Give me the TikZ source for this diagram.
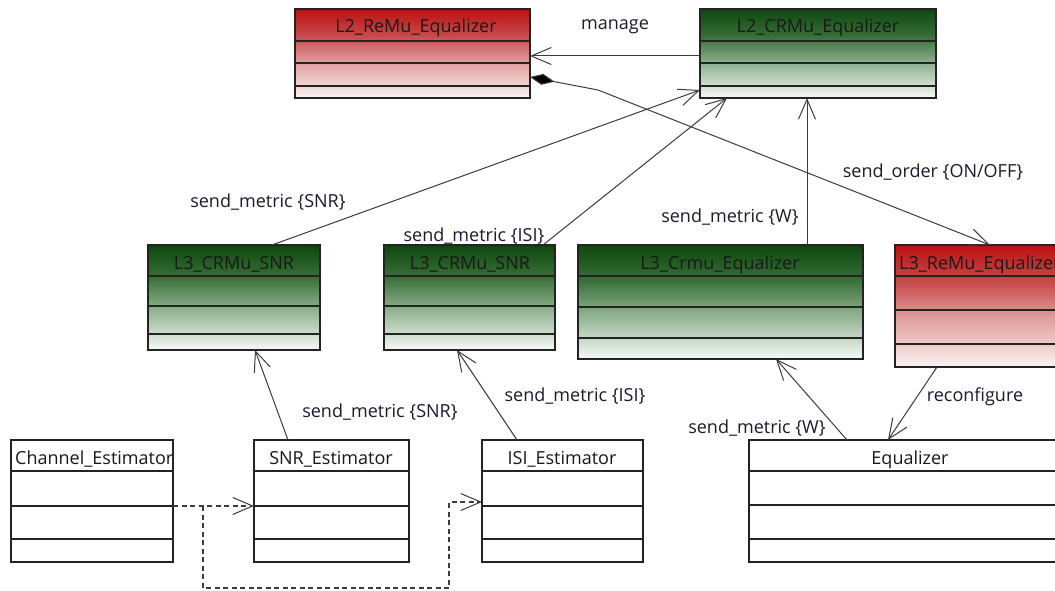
\documentclass[tikz,border=0pt]{standalone}
\usepackage{fontspec}
\setmainfont{Open Sans}
\usetikzlibrary{arrows.meta,calc,fit}
\definecolor{gD}{RGB}{14,72,14}
\definecolor{gM}{RGB}{55,110,55}
\definecolor{gL}{RGB}{140,175,140}
\definecolor{gW}{RGB}{247,249,247}
\definecolor{rD}{RGB}{188,16,16}
\definecolor{rM}{RGB}{198,75,75}
\definecolor{rL}{RGB}{225,158,158}
\definecolor{rW}{RGB}{251,243,243}
\definecolor{boxc}{RGB}{35,35,35}
\definecolor{linec}{RGB}{60,60,60}
\definecolor{txtc}{RGB}{30,24,48}
\pgfdeclareverticalshading{gshade}{100bp}{color(0bp)=(gW); color(25bp)=(gW); color(45bp)=(gL); color(60bp)=(gM); color(75bp)=(gD); color(100bp)=(gD)}
\pgfdeclareverticalshading{rshade}{100bp}{color(0bp)=(rW); color(25bp)=(rW); color(45bp)=(rL); color(60bp)=(rM); color(75bp)=(rD); color(100bp)=(rD)}
\tikzset{
  boxline/.style={draw=boxc, line width=1.4pt},
  greenfill/.style={shading=gshade},
  redfill/.style={shading=rshade},
  whitefill/.style={fill=white},
  ttl/.style={anchor=base, inner sep=0pt, text=black!90, font=\fontsize{18}{21}\selectfont},
  lbl/.style={anchor=base, inner sep=0pt, text=txtc, font=\fontsize{18}{21}\selectfont},
  conn/.style={draw=linec, line width=1pt},
  barb/.tip={Straight Barb[length=20pt,width=17pt,line width=1pt]},
  openarrow/.style={-barb},
  dashconn/.style={draw=linec, line width=1.2pt, dash pattern=on 5pt off 3.5pt},
}
% #1 name, #2 x1, #3 y1, #4 x2, #5 y2, #6 d1, #7 d2, #8 d3, #9 fill style
\newcommand\umlbox[9]{%
  \path[#9] (#2,#3) rectangle (#4,#5);
  \node[fit={(#2,#3) (#4,#5)}, inner sep=0pt, boxline] (#1) {};
  \draw[boxline] (#2,#6) -- (#4,#6) (#2,#7) -- (#4,#7) (#2,#8) -- (#4,#8);
}
\begin{document}
\begin{tikzpicture}[x=1pt,y=-1pt]
\useasboundingbox (0,0) rectangle (1055,591);
\clip (0,0) rectangle (1055,591);
\fill[white] (0,0) rectangle (1055,591);

% ---- boxes ----
\umlbox{l2r}{295}{9}{530}{98}{41}{63}{86}{redfill}
\umlbox{l2c}{700}{9}{936}{98}{41}{63}{86}{greenfill}
\umlbox{l3a}{148}{245}{320}{350}{276}{306}{334}{greenfill}
\umlbox{l3b}{384}{245}{555}{350}{276}{306}{334}{greenfill}
\umlbox{l3c}{578}{245}{863}{359}{276}{307}{338}{greenfill}
\umlbox{l3r}{895}{245}{1075}{367}{276}{310}{344}{redfill}
\umlbox{che}{11}{440}{173}{562}{471}{506}{539}{whitefill}
\umlbox{sne}{254}{440}{409}{562}{471}{506}{539}{whitefill}
\umlbox{ise}{482}{440}{643}{562}{471}{506}{539}{whitefill}
\umlbox{equ}{749}{440}{1071}{562}{471}{505}{539}{whitefill}

% ---- titles ----
\node[ttl] (t1) at (416,33) {L2\_ReMu\_Equalizer};
\node[ttl] (t2) at (818,33) {L2\_CRMu\_Equalizer};
\node[ttl] (t3) at (234,269) {L3\_CRMu\_SNR};
\node[ttl] (t4) at (470,269) {L3\_CRMu\_SNR};
\node[ttl] (t5) at (720,269) {L3\_Crmu\_Equalizer};
\node[ttl, anchor=base west] (t6) at (899,269) {L3\_ReMu\_Equalizer};
\begin{scope}
\clip (11,440) rectangle (173,471);
\node[ttl, anchor=base west] (t7) at (15,464) {Channel\_Estimator};
\end{scope}
\node[ttl] (t8) at (331,464) {SNR\_Estimator};
\node[ttl] (t9) at (562,464) {ISI\_Estimator};
\node[ttl] (t10) at (910,464) {Equalizer};

% ---- connector end points ----
\coordinate (mA) at (700,56);   \coordinate (mB) at (530,56);
\coordinate (dA) at (530,77);   \coordinate (dK) at (598,90);  \coordinate (dB) at (990,245);
\coordinate (sA) at (272,245);  \coordinate (sB) at (700,90);
\coordinate (iA) at (543,245);  \coordinate (iB) at (727,98);
\coordinate (wA) at (807,245);  \coordinate (wB) at (807,98);
\coordinate (s2A) at (288,440); \coordinate (s2B) at (255,350);
\coordinate (i2A) at (517,440); \coordinate (i2B) at (457,350);
\coordinate (w2A) at (847,440); \coordinate (w2B) at (776,359);
\coordinate (rA) at (937,367);  \coordinate (rB) at (888,440);
\coordinate (kA) at (173,506);  \coordinate (kB) at (254,506);
\coordinate (kS) at (203,506);  \coordinate (kD1) at (203,588);
\coordinate (kD2) at (449,588); \coordinate (kU) at (449,502);
\coordinate (kC) at (482,502);

% ---- connectors ----
\draw[conn, openarrow] (mA) -- (mB);
\draw[conn, {Diamond[length=25pt,width=11pt,fill=black]}-barb] (dA) -- (dK) -- (dB);
\draw[conn, openarrow] (sA) -- (sB);
\draw[conn, openarrow] (iA) -- (iB);
\draw[conn, openarrow] (wA) -- (wB);
\draw[conn, openarrow] (s2A) -- (s2B);
\draw[conn, openarrow] (i2A) -- (i2B);
\draw[conn, openarrow] (w2A) -- (w2B);
\draw[conn, openarrow] (rA) -- (rB);
\draw[dashconn, -barb] (kA) -- (kB);
\draw[dashconn, -barb] (kS) -- (kD1) -- (kD2) -- (kU) -- (kC);

% ---- labels ----
\node[lbl] (l1) at (615,30) {manage};
\node[lbl] (l2) at (268,207) {send\_metric \{SNR\}};
\node[lbl] (l3) at (474,241) {send\_metric \{ISI\}};
\node[lbl] (l4) at (730,222) {send\_metric \{W\}};
\node[lbl] (l5) at (933,177) {send\_order \{ON/OFF\}};
\node[lbl] (l6) at (380,417) {send\_metric \{SNR\}};
\node[lbl] (l7) at (575,401) {send\_metric \{ISI\}};
\node[lbl] (l8) at (757,433) {send\_metric \{W\}};
\node[lbl] (l9) at (975,401) {reconfigure};
\end{tikzpicture}
\end{document}
